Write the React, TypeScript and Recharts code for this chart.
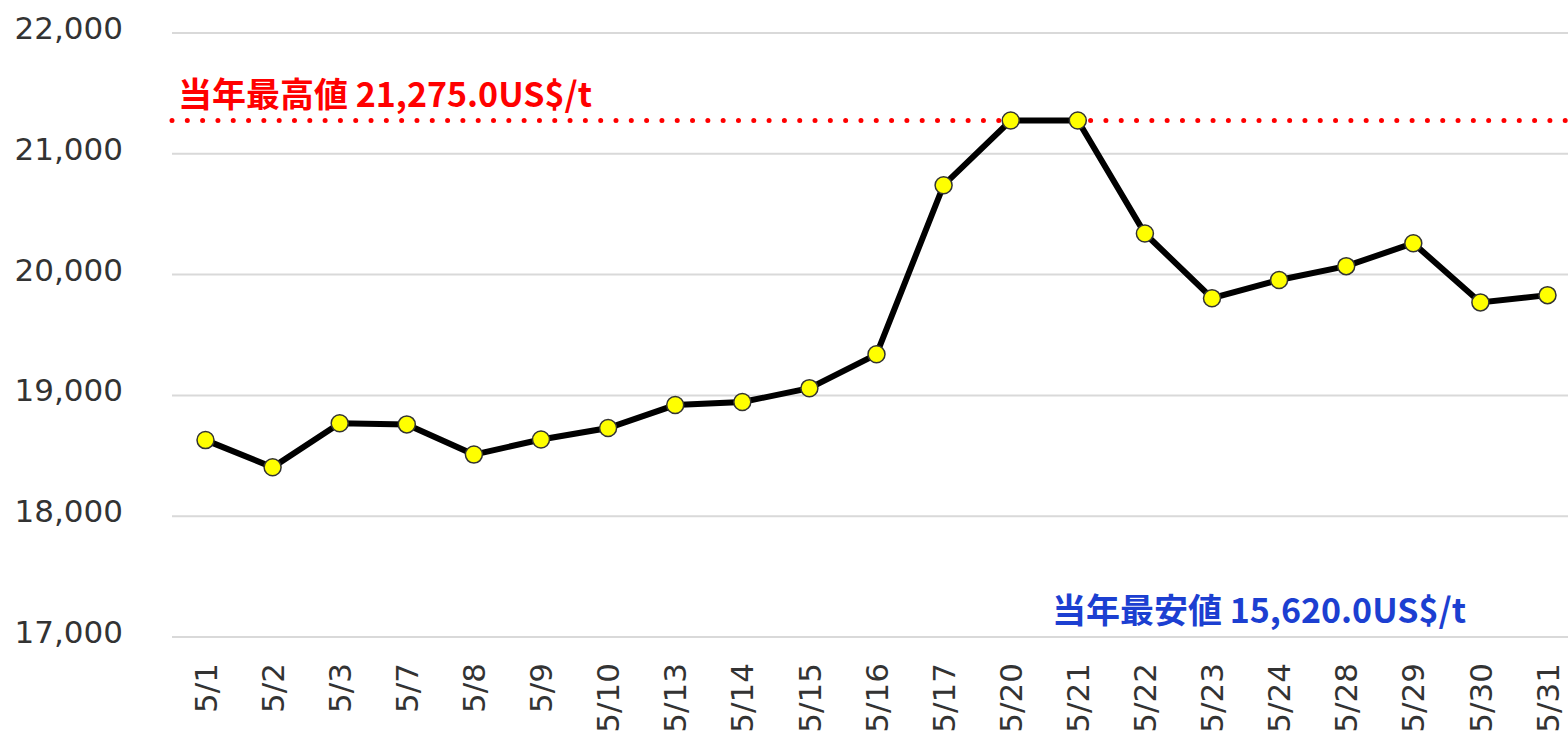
import React from 'react';
import { LineChart, Line, XAxis, YAxis, CartesianGrid, ReferenceLine } from 'recharts';

const dates = ['5/1', '5/2', '5/3', '5/7', '5/8', '5/9', '5/10', '5/13', '5/14', '5/15', '5/16',
  '5/17', '5/20', '5/21', '5/22', '5/23', '5/24', '5/28', '5/29', '5/30', '5/31'];
const prices = [18630, 18405, 18770, 18760, 18510, 18635, 18730, 18920, 18945, 19060, 19340,
  20740, 21275, 21275, 20340, 19805, 19955, 20070, 20260, 19770, 19830];
const yTicks = [17000, 18000, 19000, 20000, 21000, 22000];
const yearHigh = 21275;
const highLabel = '当年最高値 21,275.0US$/t';
const lowLabel = '当年最安値 15,620.0US$/t';

const data = dates.map((d, i) => ({ date: d, price: prices[i] }));

const fmt = (v: number) => v.toLocaleString('en-US');

const DateTick = (props: any) => {
  const { x, y, payload } = props;
  return (
    <g transform={`translate(${x},${y + 20})`}>
      <text transform="rotate(-90)" textAnchor="end" dy="0.36em" fill="#333"
        fontFamily="DejaVu Sans" fontSize={31}>
        {payload.value}
      </text>
    </g>
  );
};

const HighLabel = (props: any) => {
  const { viewBox } = props;
  return (
    <text x={viewBox.x + 6} y={viewBox.y - 14} fill="#ff0000" fontWeight="bold"
      fontFamily="Noto Sans CJK JP" fontSize={34}>
      {highLabel}
    </text>
  );
};

const LowLabel = (props: any) => {
  const { viewBox } = props;
  return (
    <text x={viewBox.x + 880} y={viewBox.y - 14} fill="#1c3fd1" fontWeight="bold"
      fontFamily="Noto Sans CJK JP" fontSize={34}>
      {lowLabel}
    </text>
  );
};

const App: React.FC = () => {
  return (
    <div style={{ position: 'absolute', left: 0, top: 0, width: 1568, height: 736, overflow: 'hidden', background: '#fff' }}>
      <LineChart width={1581} height={736} data={data} margin={{ top: 33, right: 0, left: 0, bottom: 0 }}>
        <CartesianGrid vertical={false} stroke="#d9d9d9" strokeWidth={2} />
        <XAxis dataKey="date" axisLine={false} tickLine={false} interval={0} height={99}
          padding={{ left: 33.5, right: 33.5 }} tickMargin={0} tick={<DateTick />} />
        <YAxis domain={[17000, 22000]} ticks={yTicks} width={172} axisLine={false} tickLine={false}
          tickMargin={43} tickFormatter={fmt}
          tick={{ fill: '#333', fontSize: 31, fontFamily: 'DejaVu Sans', dy: -5 }} />
        <ReferenceLine y={17000} stroke="none" label={<LowLabel />} />
        <ReferenceLine y={yearHigh} stroke="#ff0000" strokeWidth={5} strokeDasharray="0.01 15.3"
          strokeLinecap="round" label={<HighLabel />} />
        <Line type="linear" dataKey="price" stroke="#000" strokeWidth={6}
          dot={{ r: 8.5, fill: '#ffff00', stroke: '#333', strokeWidth: 1.5 }}
          isAnimationActive={false} />
      </LineChart>
    </div>
  );
};

export default App;
